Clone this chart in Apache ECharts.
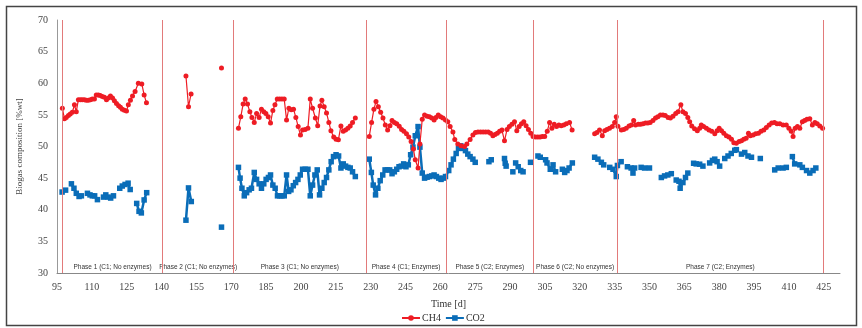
<!DOCTYPE html>
<html>
<head>
<meta charset="utf-8">
<script src="https://cdn.jsdelivr.net/npm/echarts@6/dist/echarts.min.js"></script>
<style>
html,body{margin:0;padding:0;background:#fff;}
#chart{width:862px;height:328px;}
</style>
</head>
<body>
<div id="chart"></div>
<script>
// Phase boundaries (days) and labels
const phaseBounds = [97.3, 140.5, 171, 228, 262.5, 300, 336, 425];
const phaseLabels = [
  'Phase 1 (C1; No enzymes)',
  'Phase 2 (C1; No enzymes)',
  'Phase 3 (C1; No enzymes)',
  'Phase 4 (C1; Enzymes)',
  'Phase 5 (C2; Enzymes)',
  'Phase 6 (C2; No enzymes)',
  'Phase 7 (C2; Enzymes)'
];
const yTicks = [30, 35, 40, 45, 50, 55, 60, 65, 70];
const xTickStart = 95, xTickStep = 15, xTickEnd = 425;

// CH4 [day, %] ; null = gap
const ch4 = [
  [97.3,56.05],[98.2,54.4],[99.0,54.6],[99.9,54.9],[100.7,55.15],[101.6,55.4],[102.5,56.6],[103.3,55.5],
  [104.2,57.4],[105.1,57.4],[105.9,57.4],[106.8,57.4],[107.6,57.3],[108.5,57.3],[109.4,57.4],[110.2,57.5],
  [111.1,57.5],[111.9,58.15],[112.8,58.15],[113.6,58.05],[114.5,57.9],[115.4,57.8],[116.3,57.4],[117.1,57.65],
  [118.0,58.0],[118.9,57.65],[119.7,57.25],[120.6,56.8],[121.5,56.45],[122.3,56.2],[123.1,55.9],[124.0,55.75],
  [124.9,55.6],[125.7,56.6],[126.6,57.3],[127.5,58.0],[128.6,58.7],[130.0,60.0],[131.5,59.9],[132.5,58.15],[133.5,56.9],
  null,
  [150.5,61.15],[151.6,56.3],[152.7,58.3],
  null,
  [165.8,62.4],
  null,
  [173.1,52.9],[174.1,54.7],[175.1,56.7],[176,57.5],[177,56.7],[178,55.5],[178.9,54.6],[179.9,53.8],
  [180.9,55.2],[182,54.6],[183,55.9],[184,55.5],[184.9,55.2],[185.9,54.7],[186.9,53.7],[187.9,55.7],
  [188.8,56.6],[189.8,57.5],[190.8,57.5],[191.8,57.5],[192.8,57.5],[193.8,54.2],[194.8,56.05],[195.8,55.8],
  [196.8,55.9],[197.8,54.6],[198.8,53.15],[199.8,51.8],[200.7,52.6],[201.8,52.7],[203,52.9],[204,57.5],
  [205,56.05],[206.2,54.5],[207.2,53.3],[208.2,56.4],[209,57.3],[210,56.3],[211,55.3],[212,53.8],
  [212.9,52.5],[214.1,51.5],[215.1,51.15],[216.1,51.05],[217.2,53.25],[218.2,52.4],[219.2,52.6],[220.2,52.9],
  [221.2,53.25],[222.2,53.8],[223.4,54.5],
  null,
  [229.4,51.6],[230.4,53.8],[231.4,55.9],[232.3,57.1],[233.3,56.3],[234.3,55.4],[235.3,54.5],[236.3,53.4],
  [237.3,52.6],[238.3,53.3],[239.2,54.1],[240.2,53.8],[241.2,53.6],[242.3,53.2],[243.3,52.7],[244.3,52.4],
  [245.4,52.0],[246.4,51.5],[247.4,50.8],[248.4,49.6],[249.2,47.9],[250.4,46.6],[251.2,50.4],[252.2,54.3],
  [253.2,55.0],[254.3,54.8],[255.3,54.7],[256.3,54.5],[257.3,54.2],[258.1,54.6],[259.1,55.0],[260.1,54.7],
  [261.1,54.5],[262.2,54.2],[263.2,53.9],[264.2,53.15],[265.4,52.3],[266.2,51.1],[267.5,50.4],[268.9,50.1],
  [270.4,50.0],[271.4,50.4],[272.8,51.1],[274,51.8],[275.1,52.2],[276.2,52.3],[277.3,52.3],[278.4,52.3],
  [279.5,52.3],[280.6,52.3],[281.6,52.1],[282.6,51.7],[283.5,51.9],[284.5,52.1],[285.5,52.4],[286.5,52.6],
  [287.6,50.9],[288.7,52.7],[289.7,53.15],[290.8,53.5],[291.9,53.9],[292.9,52.5],[293.9,53.15],[294.9,53.6],
  [295.9,53.9],[296.9,53.3],[297.9,52.7],[298.9,52.1],[299.9,51.6],[300.9,51.5],[301.9,51.5],[302.9,51.5],
  [303.9,51.6],[304.9,51.6],[306,52.4],[307,53.8],[308,52.9],[309,53.5],[310,53.15],[311,53.4],
  [312,53.3],[313.1,53.4],[314.2,53.6],[315.6,53.8],[316.7,52.6],
  null,
  [326.4,52.0],[327.4,52.2],[328.5,52.6],[329.7,51.7],[330.7,52.5],[331.7,52.7],[332.8,52.9],[334,53.15],
  [335,53.8],[335.7,54.7],[336.4,53.2],[337.9,52.6],[338.9,52.7],[340,52.9],[341.2,53.25],[342.2,53.4],
  [343.2,54.1],[344,53.4],[345.2,53.5],[346.2,53.5],[347.2,53.6],[348.3,53.7],[349.3,53.7],[350.3,53.8],
  [351.5,54.1],[352.6,54.5],[353.6,54.7],[354.7,55.0],[355.8,55.0],[356.8,54.9],[358,54.6],[359,54.5],
  [360.1,54.8],[361.3,55.2],[362.3,55.5],[363.5,56.6],[364.4,55.5],[365.5,55.2],[366.5,54.6],[367.3,53.9],
  [368.2,53.25],[369.4,52.8],[370.6,52.5],[371.6,52.9],[372.3,53.4],[373.3,53.15],[374.5,52.9],[375.6,52.6],
  [376.8,52.4],[378.1,52.0],[379.1,52.5],[380,52.9],[381,52.5],[382,52.1],[383.1,51.7],[384.2,51.5],
  [385.3,51.15],[386.3,50.6],[387.4,50.5],[388.6,50.8],[389.6,50.9],[390.6,51.15],[391.6,51.3],[392.6,52.1],
  [393.4,51.7],[394.6,51.8],[395.7,52.0],[396.9,52.1],[398,52.4],[399.2,52.6],[400.3,53.0],[401.5,53.4],
  [402.6,53.7],[403.8,53.8],[404.9,53.6],[406.1,53.6],[407.5,53.4],[408.9,53.4],[410,52.9],[411,52.4],
  [411.8,51.6],[412.7,52.9],[413.7,53.15],[414.7,52.9],[415.8,53.9],[416.8,54.1],[417.8,54.3],[419,54.4],
  [420.1,53.4],[421.2,53.8],[422.2,53.6],[423.3,53.25],[424.5,52.9]
];

// CO2 [day, %] ; null = gap
const co2 = [
  [97.2,42.8],[98.7,43.1],
  null,
  [101.2,44.1],[102.3,43.4],[103.3,42.6],[104.5,42.1],[105.5,42.2],
  null,
  [108.1,42.6],[109.2,42.35],[110.2,42.2],[111.2,42.2],[112.4,41.6],
  null,
  [115,42.0],[116,42.35],[117,42.0],[118.1,41.85],[119.3,42.2],
  null,
  [122,43.4],[123.1,43.75],[124.3,44.0],[125.6,44.2],[126.5,43.2],
  null,
  [129.3,41.0],[130.3,39.75],[131.3,39.5],[132.5,41.55],[133.6,42.7],
  null,
  [150.5,38.35],[151.6,43.45],[152.8,41.3],
  null,
  [165.8,37.25],
  null,
  [173.1,46.7],[173.8,45.0],[174.6,43.4],[175.6,42.2],[176.6,42.7],[177.7,43.15],[178.7,43.4],[179.9,45.9],
  [180.9,44.8],[182,44.1],[183,43.4],[184,44.1],[185,44.8],[186,45.1],[186.9,45.5],[187.9,43.9],
  [188.9,43.4],[189.9,42.2],[190.9,42.2],[191.8,42.2],[192.8,42.2],[193.8,45.5],[194.7,42.9],[195.7,43.15],
  [196.7,43.8],[197.7,44.3],[198.7,44.8],[199.7,45.5],[200.7,46.4],[201.8,46.4],[203,46.4],[204,42.2],
  [205,43.9],[206,45.5],[207,46.3],[208,42.35],[209,43.4],[210,44.3],[211,45.1],[212,46.3],
  [213,47.6],[214,48.4],[215.1,48.7],[216.2,48.5],[217.2,46.6],[218.2,47.25],[219.2,46.9],[220.2,46.7],
  [221.2,46.6],[222.2,46.0],[223.4,45.25],
  null,
  [229.4,48.0],[230.3,45.9],[231.1,43.9],[232.1,42.35],[233.1,43.4],[234.1,44.6],[235.2,45.5],[236.2,46.3],
  [237.2,46.3],[238.2,46.3],[239.2,45.7],[240.2,46.0],[241.2,46.4],[242.2,46.8],[243.2,46.9],[244.2,47.25],
  [245.2,46.8],[246.2,47.1],[247.2,48.7],[248.2,49.9],[249.2,51.7],[250.4,53.15],[251.2,49.9],[252.2,45.8],
  [253.2,45.0],[254.3,45.15],[255.3,45.25],[256.3,45.35],[257.3,45.5],[258.3,45.25],[259.3,45.0],[260.3,44.8],
  [261.3,45.0],[262.2,45.25],[263.6,46.2],[264.6,47.1],[265.6,48.0],[266.8,48.9],[267.8,49.7],[268.8,50.1],
  [269.9,49.7],[270.8,49.35],[271.8,48.8],[272.8,48.4],[274,48.0],[275,47.5],
  null,
  [280.9,47.6],[281.9,47.9],
  null,
  [287.6,48.1],[287.9,47.35],[288.3,46.9],
  null,
  [291.2,46.0],
  null,
  [292.4,47.4],[293.5,46.8],[294.6,46.2],[295.6,46.0],
  null,
  [298.8,47.5],
  null,
  [302,48.5],[303,48.3],
  null,
  [305.3,47.9],[305.9,47.4],[307.3,46.4],[308.5,47.1],[309.6,46.0],
  null,
  [312.5,46.4],[313.5,45.9],[314.5,46.2],[315.4,46.6],[316.8,47.4],
  null,
  [326.4,48.3],[327.8,48.0],[329.3,47.5],[330.3,47.1],
  null,
  [332.9,46.7],[334.3,46.4],[335.7,45.25],[336.2,47.0],[337.8,47.6],
  null,
  [340.5,46.8],[342.1,46.6],[342.9,45.8],[343.6,46.6],
  null,
  [346.4,46.7],[347.9,46.6],[350,46.6],
  null,
  [355.1,45.1],[356.5,45.35],[357.9,45.5],[359.4,45.7],
  null,
  [361.5,44.7],[362.7,44.5],[363.2,43.4],[364.4,44.3],[365.5,45.1],[366.5,45.8],
  null,
  [369,47.35],[370.1,47.25],[371.6,47.2],[373,46.9],
  null,
  [375.9,47.4],[377.1,47.8],[378.1,48.0],[379.1,47.6],[380.2,46.9],
  null,
  [382.4,48.1],[383.8,48.5],[385.2,48.9],[386.7,49.4],[387.4,49.5],
  null,
  [389.6,48.8],[391,49.05],[392.4,48.5],[393.9,48.3],
  null,
  [397.7,48.1],
  null,
  [403.9,46.3],[405.4,46.6],[407.5,46.6],[408.9,46.7],
  null,
  [411.5,48.4],[412.5,47.25],[414.7,47.1],[415.8,46.7],[417.6,46.2],[419,45.8],[420.4,46.2],[421.6,46.6]
];

const toData = arr => arr.map(p => p === null ? '-' : p);
const serif = "'Liberation Serif', 'DejaVu Serif', serif";
const sans = "'Liberation Sans', 'Open Sans', sans-serif";

const chart = echarts.init(document.getElementById('chart'), null, {renderer: 'canvas'});
chart.setOption({
  animation: false,
  backgroundColor: '#fff',
  graphic: [{
    type: 'rect',
    shape: {x: 6.5, y: 6.5, width: 850, height: 319},
    style: {fill: 'none', stroke: '#444', lineWidth: 1.5},
    silent: true, z: 100
  }],
  grid: {left: 57, right: 22, top: 20, bottom: 55, containLabel: false},
  legend: {
    data: ['CH4', 'CO2'],
    left: 396, top: 308,
    itemWidth: 18, itemHeight: 7, itemGap: 4,
    textStyle: {fontFamily: serif, fontSize: 10, color: '#333', padding: [0, 0, 0, -3]}
  },
  xAxis: {
    type: 'value', min: xTickStart, max: 432, interval: xTickStep,
    name: 'Time [d]', nameLocation: 'middle', nameGap: 26,
    nameTextStyle: {fontFamily: serif, fontSize: 10, color: '#333'},
    axisLine: {show: true, lineStyle: {color: '#888', width: 1}},
    axisTick: {show: false},
    splitLine: {show: false},
    axisLabel: {
      fontFamily: serif, fontSize: 10, color: '#444', margin: 9,
      showMaxLabel: false,
      formatter: v => (v <= xTickEnd && (v - xTickStart) % xTickStep === 0) ? String(v) : ''
    }
  },
  yAxis: {
    type: 'value', min: yTicks[0], max: yTicks[yTicks.length - 1], interval: 5,
    name: 'Biogas composition [%wt]', nameLocation: 'middle', nameGap: 33,
    nameTextStyle: {fontFamily: serif, fontSize: 9, color: '#444'},
    axisLine: {show: true, lineStyle: {color: '#999', width: 1}},
    axisTick: {show: false},
    splitLine: {show: false},
    axisLabel: {fontFamily: serif, fontSize: 10, color: '#444', margin: 9}
  },
  series: [
    {
      name: 'phases', type: 'line', data: [], silent: true,
      markLine: {
        silent: true, symbol: ['none', 'none'],
        label: {show: false},
        lineStyle: {color: '#e27a7a', width: 1, type: 'solid'},
        data: phaseBounds.map(v => ({xAxis: v}))
      },
      markArea: {
        silent: true,
        itemStyle: {color: 'rgba(0,0,0,0)'},
        label: {position: 'insideBottom', distance: 2, fontFamily: sans, fontSize: 6.5, color: '#333'},
        data: phaseLabels.map((t, i) => [{xAxis: phaseBounds[i], name: t}, {xAxis: phaseBounds[i + 1]}])
      }
    },
    {
      name: 'CH4', type: 'line', data: toData(ch4),
      connectNulls: false, showSymbol: true, showAllSymbol: true,
      symbol: 'circle', symbolSize: 5,
      itemStyle: {color: '#ee1c24'},
      lineStyle: {color: '#ee1c24', width: 1.2},
      z: 3
    },
    {
      name: 'CO2', type: 'line', data: toData(co2),
      connectNulls: false, showSymbol: true, showAllSymbol: true,
      symbol: 'rect', symbolSize: 5.5,
      itemStyle: {color: '#0a6db8'},
      lineStyle: {color: '#0a6db8', width: 2.5},
      z: 2
    }
  ]
});
</script>
</body>
</html>
